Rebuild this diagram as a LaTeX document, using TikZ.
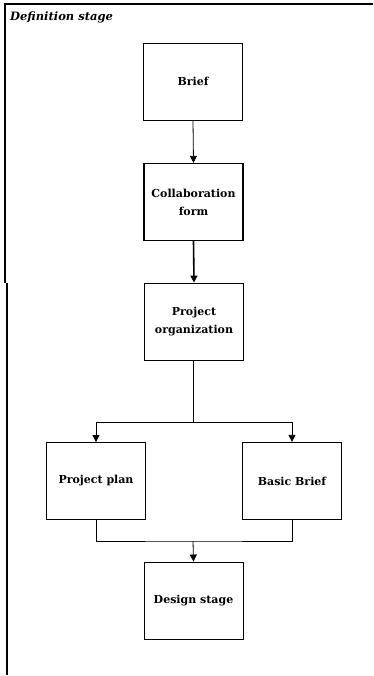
\documentclass[tikz,border=0pt]{standalone}
\usepackage{fontspec}
\setmainfont{DejaVu Serif}
\usetikzlibrary{arrows.meta}
\begin{document}
\begin{tikzpicture}[x=1pt,y=-1pt,
  stepbox/.style={draw,line width=0.9pt,minimum width=99pt,minimum height=77pt,
    align=center,font=\bfseries\fontsize{11}{18}\selectfont,inner sep=0pt},
  flow/.style={line width=0.8pt,-{Triangle[length=7pt,width=7pt]}},
  link/.style={line width=0.8pt}]
\useasboundingbox (0,0) rectangle (373,676);
% frame
\draw[line width=1.2pt] (4,4) -- (373,4);
\draw[line width=1.2pt] (5,4) -- (5,283);
\draw[line width=1.2pt] (7,283) -- (7,675);
\node[anchor=west,font=\bfseries\itshape\fontsize{11.5}{13}\selectfont,inner sep=0pt] (title) at (10,17) {Definition stage};
% boxes
\node[stepbox] (brief) at (193,81.5) {Brief};
\node[stepbox,line width=1.2pt] (collab) at (193.5,202) {Collaboration\\form};
\node[stepbox] (org) at (194,321.5) {Project\\organization};
\node[stepbox] (plan) at (96,481) {Project plan};
\node[stepbox,line width=1.2pt] (basic) at (292,481) {Basic Brief};
\node[stepbox] (design) at (193.5,600.5) {Design stage};
% connectors
\draw[flow] (brief.south) -- (collab.north);
\draw[flow,line width=1.6pt] (collab.south) -- (org.north);
\coordinate (split) at (193,422);
\draw[link] (org.south -| split) -- (split);
\draw[flow] (split) -| (plan.north);
\draw[flow] (split) -| (basic.north);
\coordinate (merge) at (193,541);
\draw[link] (plan.south) |- (merge) -| (basic.south);
\draw[flow] (merge) -- (design.north);
\end{tikzpicture}
\end{document}
